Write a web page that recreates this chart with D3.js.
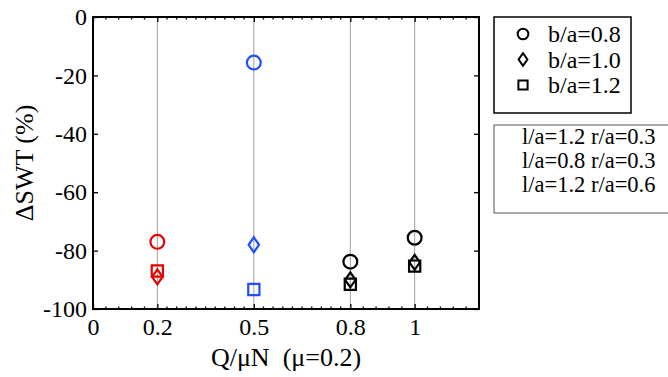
<!DOCTYPE html>
<html>
<head>
<meta charset="utf-8">
<script src="https://cdn.jsdelivr.net/npm/d3@7"></script>
<style>
html,body{margin:0;padding:0;background:#fff;}
svg{display:block;}
svg text{font-family:"Liberation Serif","Times New Roman","DejaVu Serif",serif !important;}
</style>
</head>
<body>
<svg id="chart" width="668" height="377"></svg>
<script>
// ---- data ----
const xCategories = [0.2, 0.5, 0.8, 1];
const xTickLabels = ["0", "0.2", "0.5", "0.8", "1"];
const xTickValues = [0, 0.2, 0.5, 0.8, 1];
const yTickValues = [0, -20, -40, -60, -80, -100];
const yTickLabels = ["0", "-20", "-40", "-60", "-80", "-100"];
const circleValues  = [-77, -15.6, -83.8, -75.6];   // b/a=0.8
const diamondValues = [-89, -78, -90, -84];         // b/a=1.0
const squareValues  = [-87, -93.3, -91.5, -85.3];   // b/a=1.2
const pointColors = ["#e60000", "#1e50ff", "#000000", "#000000"];
const shapeLegend = ["b/a=0.8", "b/a=1.0", "b/a=1.2"];
const configLegend = ["l/a=1.2 r/a=0.3", "l/a=0.8 r/a=0.3", "l/a=1.2 r/a=0.6"];

// ---- layout ----
const svg = d3.select("#chart");
const L = 93, R = 479, T = 17, B = 309;
const x = d3.scaleLinear().domain([0, 1.2]).range([L, R]);
const y = d3.scaleLinear().domain([-100, 0]).range([B, T]);
const FONT = "'Liberation Serif','Times New Roman','DejaVu Serif',serif";

// gridlines
svg.append("g").selectAll("line").data(xCategories).join("line")
  .attr("x1", d => x(d)).attr("x2", d => x(d))
  .attr("y1", T).attr("y2", B)
  .attr("stroke", "#a0a0a0").attr("stroke-width", 1);

// minor ticks (dots) top & bottom
const minor = [];
const bounds = [0, 0.2, 0.5, 0.8, 1, 1.2];
const divs = [5, 10, 10, 5, 5];
for (let i = 0; i < divs.length; i++) {
  for (let k = 1; k < divs[i]; k++) minor.push(bounds[i] + (bounds[i+1]-bounds[i]) * k / divs[i]);
}
const mg = svg.append("g");
minor.forEach(v => {
  mg.append("line").attr("x1", x(v)).attr("x2", x(v)).attr("y1", B).attr("y2", B-2.5).attr("stroke", "#000").attr("stroke-width", 1.3);
  mg.append("line").attr("x1", x(v)).attr("x2", x(v)).attr("y1", T).attr("y2", T+2.5).attr("stroke", "#000").attr("stroke-width", 1.3);
});

// axes
const xAxisB = d3.axisBottom(x).tickValues(xTickValues).tickFormat((d, i) => xTickLabels[i]).tickSizeInner(-5).tickSizeOuter(0).tickPadding(9);
const gx = svg.append("g").attr("transform", `translate(0,${B})`).call(xAxisB);
gx.attr("font-family", FONT).attr("font-size", 24);
gx.select(".domain").remove();
gx.selectAll("line").attr("stroke", "#000").attr("stroke-width", 1.3);
gx.selectAll("text").attr("fill", "#000");

const xAxisT = d3.axisTop(x).tickValues(xTickValues).tickFormat("").tickSizeInner(-5).tickSizeOuter(0);
const gxt = svg.append("g").attr("transform", `translate(0,${T})`).call(xAxisT);
gxt.select(".domain").remove();
gxt.selectAll("line").attr("stroke", "#000").attr("stroke-width", 1.3);

const yAxisL = d3.axisLeft(y).tickValues(yTickValues).tickFormat((d, i) => yTickLabels[i]).tickSizeInner(-5).tickSizeOuter(0).tickPadding(6);
const gy = svg.append("g").attr("transform", `translate(${L},0)`).call(yAxisL);
gy.attr("font-family", FONT).attr("font-size", 24);
gy.select(".domain").remove();
gy.selectAll("line").attr("stroke", "#000").attr("stroke-width", 1.3);
gy.selectAll("text").attr("fill", "#000");

const yAxisR = d3.axisRight(y).tickValues(yTickValues).tickFormat("").tickSizeInner(-5).tickSizeOuter(0);
const gyr = svg.append("g").attr("transform", `translate(${R},0)`).call(yAxisR);
gyr.select(".domain").remove();
gyr.selectAll("line").attr("stroke", "#000").attr("stroke-width", 1.3);

// box
svg.append("rect").attr("x", L).attr("y", T).attr("width", R-L).attr("height", B-T)
  .attr("fill", "none").attr("stroke", "#000").attr("stroke-width", 2);

// markers
const circleSym = d3.symbol().type(d3.symbolCircle).size(150);
const diamondPath = (s) => `M0,${-s*1.15}L${s*0.8},0L0,${s*1.15}L${-s*0.8},0Z`;
const squarePath = (s) => `M${-s},${-s}H${s}V${s}H${-s}Z`;

const pts = svg.append("g");
xCategories.forEach((c, i) => {
  pts.append("path").attr("d", circleSym())
    .attr("transform", `translate(${x(c)},${y(circleValues[i])})`)
    .attr("fill", "none").attr("stroke", pointColors[i]).attr("stroke-width", 2.2);
  pts.append("path").attr("d", diamondPath(6.5))
    .attr("transform", `translate(${x(c)},${y(diamondValues[i])})`)
    .attr("fill", "none").attr("stroke", pointColors[i]).attr("stroke-width", 2.2);
  pts.append("path").attr("d", squarePath(5.6))
    .attr("transform", `translate(${x(c)},${y(squareValues[i])})`)
    .attr("fill", "none").attr("stroke", pointColors[i]).attr("stroke-width", 2.2);
});

// axis labels
svg.append("text").attr("x", (L+R)/2).attr("y", 366).attr("text-anchor", "middle")
  .attr("font-family", FONT).attr("font-size", 26).attr("fill", "#000").attr("xml:space", "preserve")
  .text("Q/\u03bcN  (\u03bc=0.2)");
svg.append("text").attr("transform", `translate(33,${(T+B)/2}) rotate(-90)`).attr("text-anchor", "middle")
  .attr("font-family", FONT).attr("font-size", 26).attr("fill", "#000")
  .text("\u0394SWT (%)");

// legend 1 (shapes)
const lg1 = svg.append("g");
lg1.append("rect").attr("x", 494).attr("y", 17).attr("width", 137).attr("height", 96)
  .attr("fill", "#fff").attr("stroke", "#000").attr("stroke-width", 1.5);
const legShapes = [
  d3.symbol().type(d3.symbolCircle).size(90)(),
  diamondPath(5.5),
  squarePath(4.6)
];
shapeLegend.forEach((t, i) => {
  const cy = 34 + i * 25.5;
  lg1.append("path").attr("d", legShapes[i]).attr("transform", `translate(523,${cy})`)
    .attr("fill", "none").attr("stroke", "#000").attr("stroke-width", 2);
  lg1.append("text").attr("x", 548).attr("y", cy + 8).attr("font-family", FONT).attr("font-size", 24).attr("fill", "#000").text(t);
});

// legend 2 (configurations)
const lg2 = svg.append("g");
lg2.append("rect").attr("x", 494).attr("y", 125).attr("width", 200).attr("height", 88)
  .attr("fill", "#fff").attr("stroke", "#555").attr("stroke-width", 1);
configLegend.forEach((t, i) => {
  const cy = 136 + i * 24;
  lg2.append("text").attr("x", 522).attr("y", cy + 8).attr("font-family", FONT).attr("font-size", 22.5).attr("fill", "#000").text(t);
});
</script>
</body>
</html>
